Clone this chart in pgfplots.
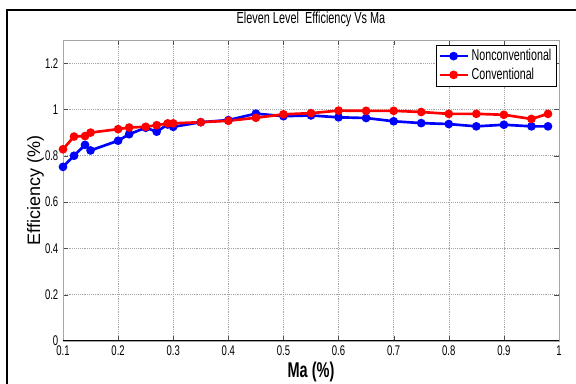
\documentclass[border=0pt]{standalone}
\usepackage{pgfplots}
\pgfplotsset{compat=1.18}
\usepackage{fontspec}
\setmainfont{Liberation Sans}[FakeStretch=0.68]
\newfontfamily\plainfont{Liberation Sans}
\begin{document}
\begin{tikzpicture}
\useasboundingbox (0pt,0pt) rectangle (432pt,288pt);
\draw[line width=1.5pt,black] (5.25pt,-10pt) rectangle (445pt,280.5pt);
\begin{axis}[
  at={(47.25pt,32.25pt)}, anchor=south west,
  scale only axis, width=372pt, height=225.75pt,
  xmin=0.1, xmax=1, ymin=0, ymax=1.3,
  xtick={0.1,0.2,...,1.0}, ytick={0,0.2,0.4,0.6,0.8,1,1.2},
  xticklabels={0.1,0.2,0.3,0.4,0.5,0.6,0.7,0.8,0.9,1},
  yticklabels={0,0.2,0.4,0.6,0.8,1,1.2},
  tick align=inside, major tick length=4pt,
  tick style={black!70},
  axis line style={gray!70},
  grid=major, major grid style={densely dotted, gray!70},
  ticklabel style={font=\fontsize{10.5}{11}\selectfont},
  /pgf/number format/assume math mode=true,
  xlabel={\bfseries Ma (\%)}, xlabel style={font=\fontsize{16}{17}\selectfont, yshift=2pt},
  ylabel={\plainfont Efficiency (\%)}, ylabel style={font=\fontsize{13.5}{14}\selectfont, yshift=-6pt},
  legend style={at={(0.752,0.985)}, anchor=north west, font=\fontsize{11.8}{12.5}\selectfont,
    draw=black, fill=white, inner sep=1.5pt, row sep=0pt, legend cell align=left},
  legend image code/.code={\draw[mark repeat=2,mark phase=2] plot coordinates {(0cm,0cm)(0.37cm,0cm)(0.74cm,0cm)};},
  every axis plot/.append style={line width=2pt, mark=*, mark size=2.2pt},
]
\addplot[color=blue, mark options={fill=blue}] coordinates {
(0.1,0.752)(0.12,0.800)(0.14,0.847)(0.15,0.823)(0.2,0.865)(0.22,0.893)(0.25,0.921)(0.27,0.904)(0.29,0.935)(0.3,0.925)(0.35,0.945)(0.4,0.954)(0.45,0.982)(0.5,0.971)(0.55,0.974)(0.6,0.966)(0.65,0.963)(0.7,0.949)(0.75,0.941)(0.8,0.937)(0.85,0.927)(0.9,0.934)(0.95,0.927)(0.98,0.927)};
\addlegendentry{Nonconventional}
\addplot[color=red, mark options={fill=red}] coordinates {
(0.1,0.828)(0.12,0.883)(0.14,0.885)(0.15,0.900)(0.2,0.915)(0.22,0.922)(0.25,0.925)(0.27,0.932)(0.29,0.940)(0.3,0.940)(0.35,0.945)(0.4,0.951)(0.45,0.964)(0.5,0.979)(0.55,0.984)(0.6,0.995)(0.65,0.994)(0.7,0.994)(0.75,0.989)(0.8,0.981)(0.85,0.981)(0.9,0.977)(0.95,0.959)(0.98,0.981)};
\addlegendentry{Conventional}
\draw[black, line width=0.8pt] (rel axis cs:0,0) -- (rel axis cs:1,0);
\end{axis}
\node[font=\fontsize{12}{13}\selectfont] at (233.25pt,273.5pt) {Eleven Level\ \ Efficiency Vs Ma};
\end{tikzpicture}
\end{document}
